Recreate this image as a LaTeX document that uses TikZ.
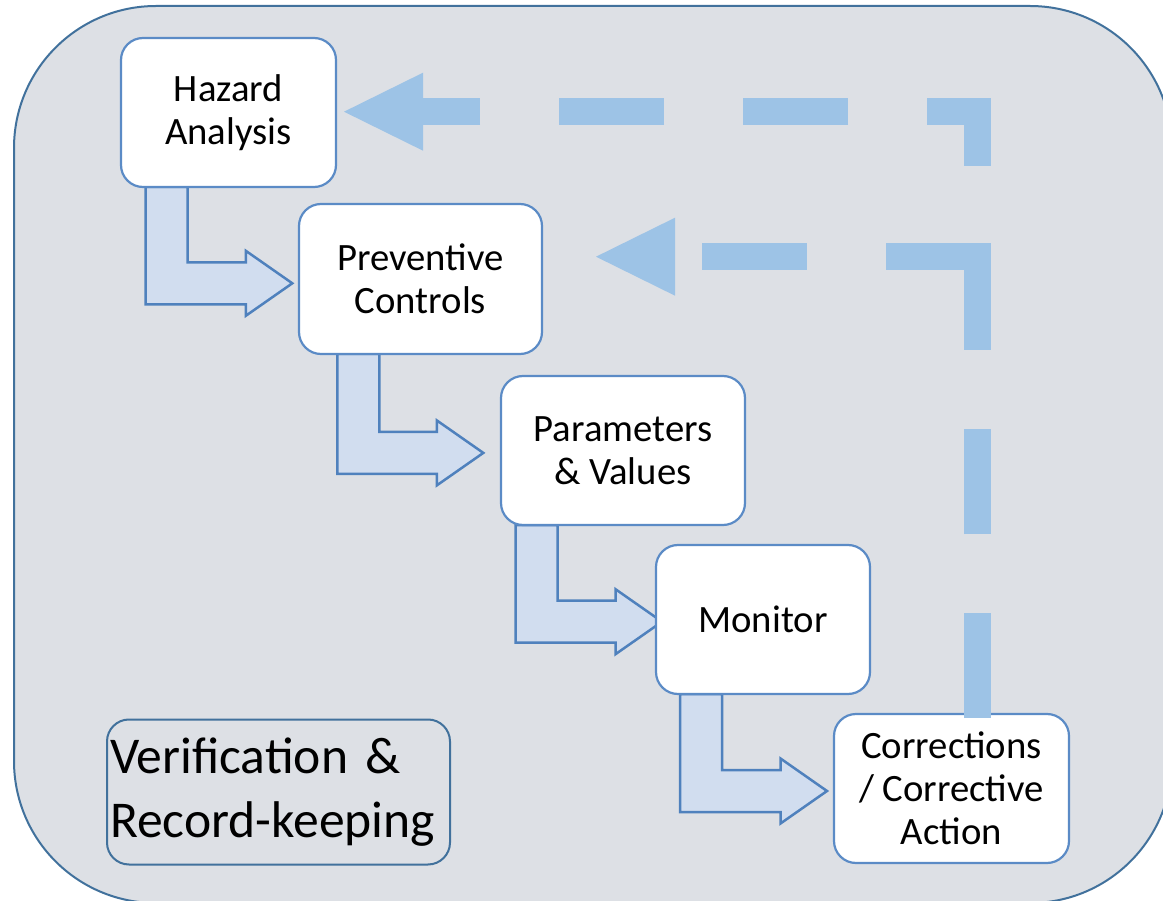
\documentclass[tikz,border=0pt]{standalone}
\usepackage{fontspec}
\setmainfont{Carlito}
\usetikzlibrary{calc,arrows.meta}
\pgfdeclarelayer{back}
\pgfdeclarelayer{mid}
\pgfsetlayers{back,mid,main}
\definecolor{bgfill}{HTML}{DDE0E5}
\definecolor{bgline}{HTML}{41719C}
\definecolor{boxline}{HTML}{5B8BC6}
\definecolor{bentfill}{HTML}{D1DDEF}
\definecolor{bentline}{HTML}{4F81BD}
\definecolor{dashblue}{HTML}{9DC3E6}
\tikzset{
  stepbox/.style={draw=boxline, line width=2.2pt, fill=white, rounded corners=22pt,
    outer sep=0pt, inner sep=0pt, align=center, font=\fontsize{38.7}{43}\selectfont},
  verbox/.style={draw=bgline, line width=2pt, rounded corners=22pt, outer sep=0pt,
    inner sep=0pt, align=left, text width=337pt, font=\fontsize{51.6}{64}\selectfont,
    minimum width=343pt, minimum height=145pt},
  bentarr/.style={draw=bentline, fill=bentfill, line width=2.5pt, line join=miter},
  dashline/.style={draw=dashblue, line width=26.5pt, dash pattern=on 105pt off 79pt,
    line join=miter, line cap=butt,
    -{Triangle[length=79pt,width=78pt,line width=0pt]}}
}
\newcommand\bentarrow[5]{%
  \coordinate (ba) at ($(#1.south west)+(#3,0)$);
  \coordinate (bt) at ($(#2.west)+(#4,#5)$);
  \draw[bentarr] (ba) -- ++(42,0) -- ($(ba|-bt)+(42,-21)$) -- ($(bt)+(-46.5,-21)$)
    -- ($(bt)+(-46.5,-32.5)$) -- (bt) -- ($(bt)+(-46.5,32.5)$)
    -- ($(bt)+(-46.5,21)$) -- ($(ba|-bt)+(0,21)$) -- cycle;}
\begin{document}
\begin{tikzpicture}[x=1pt,y=-1pt]
\useasboundingbox (0,0) rectangle (1163,901);
\begin{pgfonlayer}{back}
  \draw[draw=bgline, fill=bgfill, line width=2pt, rounded corners=142pt]
    (14,6) rectangle (1172,903);
\end{pgfonlayer}

\node[stepbox, minimum width=215pt, minimum height=149pt] (ha) at (228.5,112.5) {Hazard\\Analysis};
\node[stepbox, minimum width=243pt, minimum height=150pt] (pc) at (420.5,279) {Preventive\\Controls};
\node[stepbox, minimum width=244pt, minimum height=149pt] (pv) at (623,450.5) {Parameters\\\& Values};
\node[stepbox, minimum width=214pt, minimum height=149pt] (mo) at (763,619.5) {Monitor};
\node[stepbox, minimum width=235pt, minimum height=149pt] (co) at (951.5,788.5) {Corrections\\/ Corrective\\Action};
\node[verbox] (vr) at (278.5,792) {Verification \&\\Record-keeping};

\begin{pgfonlayer}{mid}
  \bentarrow{ha}{pc}{24.7}{-6.7}{4.3}
  \bentarrow{pc}{pv}{38.3}{-17.7}{2.4}
  \bentarrow{pv}{mo}{14.7}{6}{2.2}
  \bentarrow{mo}{co}{24}{-7}{2.5}
\end{pgfonlayer}

\coordinate (sB) at ($(co.north)+(26.2,4)$);
\coordinate (tB) at ($(ha.east)+(8,-0.8)$);
\coordinate (sA) at (977.7,269.7);
\coordinate (tA) at (596,256.7);
\draw[dashline] (sB) |- (tB);
\draw[dashline] (sA) |- (tA);
\end{tikzpicture}
\end{document}
